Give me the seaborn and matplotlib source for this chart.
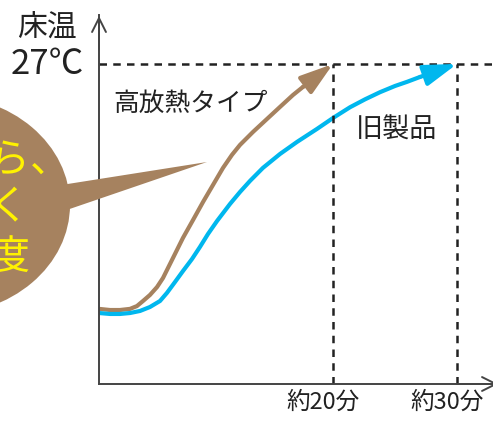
import pandas as pd
import seaborn as sns
import matplotlib.pyplot as plt
from matplotlib.patches import Ellipse, Polygon
from matplotlib.transforms import ScaledTranslation

# 高放熱タイプ (min, ℃)
high_x = [1.13, 2.02, 2.82, 3.63, 4.19, 4.68, 5.24, 5.81, 6.29, 7.10, 7.90, 8.71, 9.52,
          10.32, 11.13, 11.85, 12.5, 13.55, 14.68, 15.73, 16.77, 17.58]
high_y = [13.99, 13.93, 13.93, 13.99, 14.14, 14.41, 14.73, 15.15, 15.63, 16.70, 17.76, 18.71, 19.67,
          20.57, 21.48, 22.17, 22.70, 23.39, 24.08, 24.72, 25.35, 25.78]
high_tip = (20.0, 27.0)

# 旧製品
old_x = [1.13, 2.02, 2.82, 3.63, 4.44, 5.24, 6.05, 6.61, 7.26, 7.90, 8.63, 9.27, 9.92, 10.65,
         11.69, 12.50, 13.31, 14.35, 15.73, 17.10, 18.71, 20.0, 21.37, 22.58, 23.79, 25.0, 25.97, 27.02]
old_y = [13.77, 13.72, 13.72, 13.77, 13.88, 14.09, 14.41, 14.84, 15.42, 16.00, 16.64, 17.28, 17.97, 18.66,
         19.56, 20.20, 20.79, 21.48, 22.22, 22.86, 23.55, 24.13, 24.70, 25.12, 25.50, 25.83, 26.05, 26.31]
old_tip = (30.0, 27.0)

tick_pos = [20, 30]
tick_labels = ['約20分', '約30分']
target_temp = 27.0

brown = '#A6825F'
blue = '#00B7EE'
ink = '#222222'

sns.set_style('white')
plt.rcParams['font.family'] = ['Noto Sans CJK JP', 'DejaVu Sans']

fig = plt.figure(figsize=(4.93, 4.22), dpi=100)
ax = fig.add_axes([99 / 493, 38 / 422, 1 - 99 / 493, (384 - 15) / 422])

df = pd.concat([
    pd.DataFrame({'x': high_x, 'y': high_y, 's': '高放熱タイプ'}),
    pd.DataFrame({'x': old_x, 'y': old_y, 's': '旧製品'}),
])
sns.lineplot(data=df, x='x', y='y', hue='s', palette={'高放熱タイプ': brown, '旧製品': blue},
             sort=False, lw=3, legend=False, ax=ax,
             solid_capstyle='round', solid_joinstyle='round')

# arrow heads
for xs, ys, tip, c in [(high_x, high_y, high_tip, brown), (old_x, old_y, old_tip, blue)]:
    ax.annotate('', xy=tip, xytext=(xs[-1], ys[-1]),
                arrowprops=dict(arrowstyle='-|>,head_length=1.0,head_width=0.32',
                                mutation_scale=20, color=c, lw=3, shrinkA=0, shrinkB=0))

ax.set_xlim(1.13, 32.9)
ax.set_ylim(10, 29.6)

# dashed guides
dash = dict(color=ink, lw=1.8, ls=(0, (3, 2.5)))
ax.axhline(target_temp, **dash)
for p in tick_pos:
    ax.plot([p, p], [10, target_temp], **dash)

# axes
for s in ['top', 'right']:
    ax.spines[s].set_visible(False)
for s in ['left', 'bottom']:
    ax.spines[s].set_color('#444444')
    ax.spines[s].set_linewidth(1.4)
ax.set_yticks([])
ax.set_xticks(tick_pos)
ax.set_xticklabels(tick_labels, fontsize=17, color=ink)
ax.tick_params(axis='x', length=0, pad=5)
off = ScaledTranslation(-10 / 100, 0, fig.dpi_scale_trans)
for lab in ax.get_xticklabels():
    lab.set_transform(lab.get_transform() + off)
ax.set_xlabel('')
ax.set_ylabel('')
ax.annotate('', xy=(0, 1.005), xytext=(0, 0.9), xycoords='axes fraction',
            arrowprops=dict(arrowstyle='->,head_length=0.5,head_width=0.25',
                            mutation_scale=20, color='#444444', lw=1.4), annotation_clip=False)
ax.annotate('', xy=(1.02, 0), xytext=(0.9, 0), xycoords='axes fraction',
            arrowprops=dict(arrowstyle='->,head_length=0.5,head_width=0.25',
                            mutation_scale=20, color='#444444', lw=1.4), annotation_clip=False)

# labels
ax.text(14.76, 24.9, '高放熱タイプ', fontsize=18.5, color=ink, ha='right', va='center')
ax.text(25.1, 23.5, '旧製品', fontsize=19.5, color=ink, ha='center', va='center')
fig.text(47 / 493, 1 - 27 / 422, '床温', fontsize=21.5, color=ink, ha='center', va='center')
fig.text(47 / 493, 1 - 64 / 422, '27℃', fontsize=25, color=ink, ha='center', va='center')

# speech bubble (pixel coordinates overlay)
ov = fig.add_axes([0, 0, 1, 1], zorder=5)
ov.set_xlim(0, 493)
ov.set_ylim(422, 0)
ov.axis('off')
ov.patch.set_alpha(0)
ov.add_patch(Ellipse((-60, 205), 260, 220, color=brown, lw=0))
ov.add_patch(Polygon([(55, 186), (207, 162), (55, 214)], closed=True, color=brown, lw=0))
bub = dict(fontsize=29, color='#FFF200', ha='right', va='center')
ov.text(70, 160, '暖まりが早いから、', **bub)
ov.text(29, 207, 'すばやく', **bub)
ov.text(31, 257, '快適温度', **bub)

fig.savefig('out.png', dpi=100)
